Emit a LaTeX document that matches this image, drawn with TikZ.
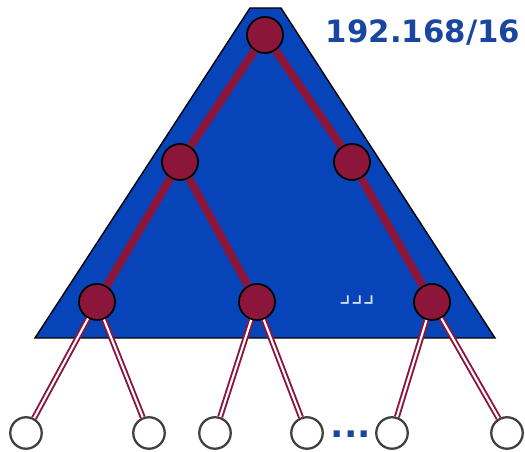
\documentclass[tikz,border=0pt]{standalone}
\usepackage{fontspec}
\setsansfont{DejaVu Sans}
\newfontfamily\symfont{DejaVu Sans}
\usepackage{xcolor}
\definecolor{netblue}{RGB}{8,68,185}
\definecolor{txtblue}{RGB}{25,70,160}
\definecolor{treered}{RGB}{140,22,58}
\begin{document}
\begin{tikzpicture}[
  x=0.02cm, y=-0.02cm,
  router/.style={circle, draw=black, line width=1pt, fill=treered, minimum size=0.72cm, inner sep=0pt},
  host/.style={circle, draw=black!75, line width=1.3pt, fill=white, minimum size=0.63cm, inner sep=0pt},
  trunk/.style={treered, line width=4.6pt},
  link/.style={treered, line width=1.1pt, double=white, double distance=1.2pt},
]
\useasboundingbox (0,0) rectangle (525,452);
% prefix triangle
\draw[fill=netblue, line width=0.8pt] (250,8) -- (281,8) -- (495,338) -- (35,338) -- cycle;
\node[font=\sffamily\bfseries\fontsize{17.5}{20}\selectfont, text=txtblue] (prefix) at (423,33) {192.168/16};
\node[font=\symfont\Large, text=white!85!netblue] (gap) at (357,300) {⌟⌟⌟};
% routers
\node[router] (root) at (265,35) {};
\node[router] (l) at (180,162) {};
\node[router] (r) at (352,162) {};
\node[router] (ll) at (97,302) {};
\node[router] (lr) at (257,302) {};
\node[router] (rr) at (432,302) {};
% hosts
\node[host] (h1) at (26,433) {};
\node[host] (h2) at (149,433) {};
\node[host] (h3) at (215,433) {};
\node[host] (h4) at (307,433) {};
\node[host] (h5) at (392,433) {};
\node[host] (h6) at (507,433) {};
\node[font=\sffamily\bfseries\fontsize{20}{22}\selectfont, text=txtblue] (more) at (351,434) {...};
% tree
\draw[trunk] (root) -- (l);
\draw[trunk] (root) -- (r);
\draw[trunk] (l) -- (ll);
\draw[trunk] (l) -- (lr);
\draw[trunk] (r) -- (rr);
\draw[link] (ll) -- (h1);
\draw[link] (ll) -- (h2);
\draw[link] (lr) -- (h3);
\draw[link] (lr) -- (h4);
\draw[link] (rr) -- (h5);
\draw[link] (rr) -- (h6);
\end{tikzpicture}
\end{document}
